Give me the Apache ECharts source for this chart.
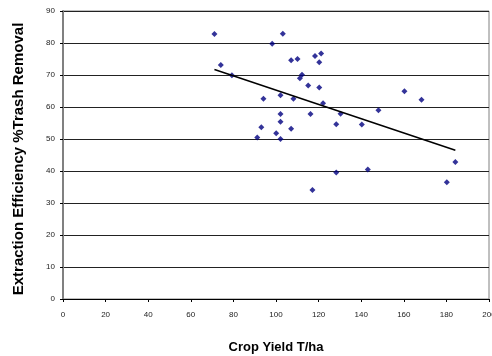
<!DOCTYPE html>
<html>
<head>
<meta charset="utf-8">
<script src="https://cdn.jsdelivr.net/npm/echarts@6/dist/echarts.min.js"></script>
<style>
  html, body { margin: 0; padding: 0; background: #fff; }
  #chart { width: 492px; height: 356px; }
</style>
</head>
<body>
<div id="chart"></div>
<script>
// crop yield (T/ha) vs extraction efficiency (% trash removal)
var yieldX = [71.1, 74.1, 79.3, 103.2, 98.2, 107.1, 110.1, 118.3, 121.2, 120.3,
    112.2, 111.2, 115.1, 120.3, 94.1, 102.1, 108.2, 122.1, 160.3, 168.3,
    102.1, 116.2, 130.3, 148.1, 102.1, 93.1, 107.1, 128.3, 140.3, 91.2,
    100.1, 102.1, 184.2, 128.3, 143.1, 117.1, 180.2];
var effY = [82.8, 73.1, 69.9, 82.9, 79.8, 74.6, 75.0, 75.9, 76.7, 74.0,
    70.1, 69.0, 66.7, 66.1, 62.6, 63.7, 62.6, 61.2, 64.9, 62.3,
    57.8, 57.8, 57.9, 59.0, 55.4, 53.7, 53.2, 54.6, 54.5, 50.5,
    51.8, 50.0, 42.8, 39.5, 40.5, 34.1, 36.5];

// trend line end points
var trendX = [71.1, 184.2];
var trendY = [71.7, 46.5];

var xTicks = [0, 20, 40, 60, 80, 100, 120, 140, 160, 180, 200];
var yTicks = [0, 10, 20, 30, 40, 50, 60, 70, 80, 90];

function pairs(a, b) {
    var out = [];
    for (var i = 0; i < a.length; i++) {
        out.push([a[i], b[i]]);
    }
    return out;
}

var myChart = echarts.init(document.getElementById('chart'));

var option = {
    animation: false,
    textStyle: { fontFamily: 'Liberation Sans, Arial, sans-serif' },
    grid: {
        left: 63,
        right: 3,
        top: 11,
        bottom: 57,
        outerBoundsMode: 'none',
        containLabel: false,
        show: true,
        borderColor: '#808080',
        borderWidth: 1
    },
    xAxis: {
        type: 'value',
        min: xTicks[0],
        max: xTicks[xTicks.length - 1],
        interval: 20,
        name: 'Crop Yield T/ha',
        nameLocation: 'middle',
        nameGap: 42,
        nameTextStyle: { fontSize: 13, fontWeight: 'bold', color: '#000' },
        axisLine: { lineStyle: { color: '#000', width: 1 } },
        axisTick: { length: 3, lineStyle: { color: '#000' } },
        axisLabel: { fontSize: 8, color: '#222', margin: 12 },
        splitLine: { show: false }
    },
    yAxis: {
        type: 'value',
        min: yTicks[0],
        max: yTicks[yTicks.length - 1],
        interval: 10,
        name: 'Extraction Efficiency %Trash Removal',
        nameLocation: 'middle',
        nameGap: 37,
        nameTextStyle: { fontSize: 15, fontWeight: 'bold', color: '#000', padding: [0, 8, 0, 0] },
        axisLine: { show: true, lineStyle: { color: '#808080', width: 2 } },
        axisTick: { show: true, length: 3, lineStyle: { color: '#000' } },
        axisLabel: { fontSize: 8, color: '#222', margin: 8 },
        splitLine: { lineStyle: { color: '#222', width: 1 } }
    },
    series: [{
        type: 'scatter',
        symbol: 'diamond',
        symbolSize: 6,
        itemStyle: { color: '#000080' },
        data: pairs(yieldX, effY)
    }, {
        type: 'line',
        symbol: 'none',
        lineStyle: { color: '#000', width: 1.5 },
        data: pairs(trendX, trendY)
    }]
};
myChart.setOption(option);
</script>
</body>
</html>
